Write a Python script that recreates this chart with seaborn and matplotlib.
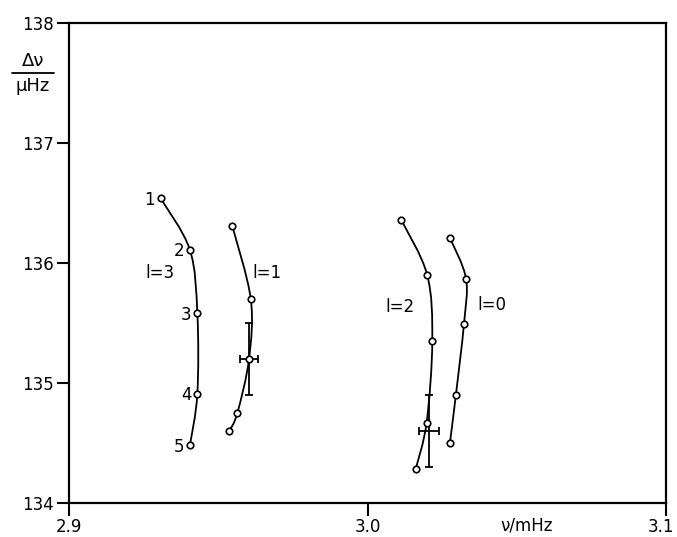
"""
Large separation vs frequency for l = 0..3 modes.
"""

import matplotlib

matplotlib.use("Agg")
import matplotlib.pyplot as plt
import matplotlib.transforms as mtransforms
import numpy as np
import pandas as pd
import seaborn as sns
from matplotlib.patches import PathPatch
from matplotlib.path import Path

# --- data ---
L3_NU = [2.9307, 2.9405, 2.9430, 2.9430, 2.9405]
L3_DNU = [136.54, 136.11, 135.58, 134.91, 134.48]
L1_NU = [2.9547, 2.9609, 2.9603, 2.9564, 2.9537]
L1_DNU = [136.31, 135.70, 135.20, 134.75, 134.60]
L2_NU = [3.0113, 3.0200, 3.0217, 3.0198, 3.0161]
L2_DNU = [136.36, 135.90, 135.35, 134.67, 134.28]
L0_NU = [3.0276, 3.0330, 3.0323, 3.0296, 3.0276]
L0_DNU = [136.21, 135.87, 135.49, 134.90, 134.50]

POINT_NUMBERS = ["1", "2", "3", "4", "5"]
CURVE_LABELS = ["l=3", "l=1", "l=2", "l=0"]
CURVE_LABEL_NU = [2.9305, 2.9663, 3.0109, 3.0417]
CURVE_LABEL_DNU = [135.92, 135.92, 135.63, 135.65]

OBS_NU = [2.9603, 3.0207]
OBS_DNU = [135.20, 134.60]
OBS_NU_ERR = [0.0030, 0.0033]
OBS_DNU_ERR = [0.30, 0.30]

X_TICKS = [2.9, 3.0, 3.1]
X_TICK_LABELS = ["2.9", "3.0", "3.1"]
Y_TICKS = [134, 135, 136, 137, 138]


def smooth_path(xs, ys) -> Path:
    """Bezier path through the points (Catmull-Rom style control points)."""
    pts = np.column_stack([xs, ys])
    ext = np.vstack([pts[0], pts, pts[-1]])
    verts = [pts[0]]
    codes = [Path.MOVETO]
    for i in range(len(pts) - 1):
        p0, p1, p2, p3 = ext[i], ext[i + 1], ext[i + 2], ext[i + 3]
        verts += [p1 + (p2 - p0) / 6, p2 - (p3 - p1) / 6, p2]
        codes += [Path.CURVE4] * 3
    return Path(verts, codes)


sns.set_style("ticks")
plt.rcParams["font.family"] = ["DejaVu Sans"]
plt.rcParams["text.color"] = "black"

fig = plt.figure(figsize=(6.77, 5.37), dpi=100)
ax = fig.add_axes([0.1019, 0.0633, 0.8819, 0.8937])

curves = [(L3_NU, L3_DNU), (L1_NU, L1_DNU), (L2_NU, L2_DNU), (L0_NU, L0_DNU)]
frames = []
for label, (nu, dnu) in zip(CURVE_LABELS, curves):
    ax.add_patch(
        PathPatch(smooth_path(nu, dnu), facecolor="none", edgecolor="black", lw=1.3)
    )
    frames.append(pd.DataFrame({"nu": nu, "dnu": dnu, "l": label}))
df = pd.concat(frames, ignore_index=True)

ax.errorbar(
    OBS_NU,
    OBS_DNU,
    xerr=OBS_NU_ERR,
    yerr=OBS_DNU_ERR,
    fmt="none",
    ecolor="black",
    elinewidth=1.3,
    capsize=3,
    capthick=1.3,
    zorder=3,
)

sns.scatterplot(
    data=df,
    x="nu",
    y="dnu",
    marker="o",
    s=22,
    facecolor="white",
    edgecolor="black",
    linewidth=1.2,
    legend=False,
    zorder=4,
    ax=ax,
)

for num, nu, dnu in zip(POINT_NUMBERS, L3_NU, L3_DNU):
    ax.annotate(
        num,
        (nu, dnu),
        xytext=(-8, -1),
        textcoords="offset points",
        ha="center",
        va="center",
        fontsize=12,
        color="black",
    )

for text, nu, dnu in zip(CURVE_LABELS, CURVE_LABEL_NU, CURVE_LABEL_DNU):
    ax.text(nu, dnu, text, ha="center", va="center", fontsize=12, color="black")

ax.set_xlim(2.9, 3.1)
ax.set_ylim(134, 138)
ax.set_xticks(X_TICKS)
ax.set_xticklabels(X_TICK_LABELS)
ax.set_yticks(Y_TICKS)
ax.tick_params(
    axis="x", direction="out", length=9, width=1.5, pad=1.5, labelsize=12,
    colors="black",
)
ax.tick_params(
    axis="y", direction="out", length=9, width=1.5, pad=2, labelsize=12,
    colors="black",
)
ax.set_xlabel("")
ax.set_ylabel("")
for side in ["left", "right", "top", "bottom"]:
    ax.spines[side].set_visible(True)
    ax.spines[side].set_linewidth(1.6)
    ax.spines[side].set_color("black")

# keep the last tick label inside the canvas
last = ax.get_xticklabels()[-1]
shift = mtransforms.ScaledTranslation(-5 / 100, 0, fig.dpi_scale_trans)
last.set_transform(last.get_transform() + shift)

# axis labels placed as in the original
fig.text(527 / 677, 1 - 526 / 537, "ν/mHz", ha="center", va="center",
         fontsize=12, color="black")
fig.text(33 / 677, 1 - 61 / 537, "Δν", ha="center", va="center",
         fontsize=13, color="black")
fig.text(33 / 677, 1 - 86 / 537, "μHz", ha="center", va="center",
         fontsize=13, color="black")
fig.add_artist(
    plt.Line2D(
        [12 / 677, 54 / 677],
        [1 - 73 / 537, 1 - 73 / 537],
        color="black",
        lw=1.3,
        transform=fig.transFigure,
    )
)

fig.savefig("out.png", dpi=100)
plt.close(fig)
